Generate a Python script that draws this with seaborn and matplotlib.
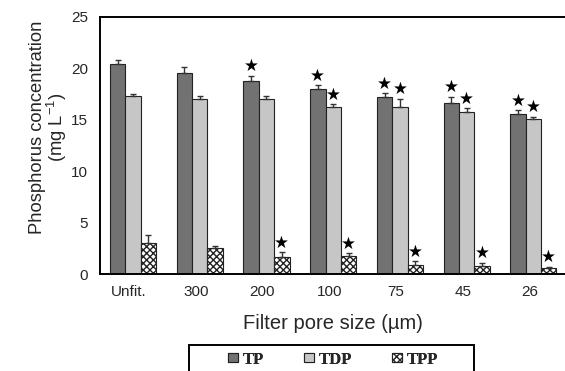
import numpy as np
import pandas as pd
import matplotlib
matplotlib.use("Agg")
import matplotlib.pyplot as plt
import matplotlib.transforms as mtransforms
from matplotlib.patches import Rectangle
from matplotlib.ticker import FixedLocator
import seaborn as sns

categories = ["Unfit.", "300", "200", "100", "75", "45", "26"]
series = ["TP", "TDP", "TPP"]
tp = [20.4, 19.6, 18.8, 17.95, 17.2, 16.6, 15.55]
tdp = [17.3, 17.05, 17.0, 16.2, 16.25, 15.8, 15.05]
tpp = [3.05, 2.5, 1.7, 1.75, 0.9, 0.8, 0.55]
tp_err = [0.45, 0.55, 0.5, 0.4, 0.4, 0.65, 0.4]
tdp_err = [0.2, 0.3, 0.3, 0.3, 0.8, 0.3, 0.25]
tpp_err = [0.7, 0.25, 0.4, 0.25, 0.35, 0.3, 0.15]
tp_sig = [False, False, True, True, True, True, True]
tdp_sig = [False, False, False, True, True, True, True]
tpp_sig = [False, False, True, True, True, True, True]

df = pd.DataFrame({
    "size": categories * 3,
    "series": [s for s in series for _ in categories],
    "value": tp + tdp + tpp,
})
errs = [tp_err, tdp_err, tpp_err]
sigs = [tp_sig, tdp_sig, tpp_sig]

sns.set_style("white")
plt.rcParams["font.family"] = ["Liberation Sans", "DejaVu Sans"]

W, H = 565, 371
fig = plt.figure(figsize=(W / 100, H / 100), dpi=100)
ax = fig.add_axes([99.7 / W, 1 - 274 / H, (566.7 - 99.7) / W, (274 - 17) / H])

palette = ["#727272", "#c6c6c6", "#ffffff"]
sns.barplot(data=df, x="size", y="value", hue="series", order=categories,
            hue_order=series, palette=palette, width=0.69, dodge=True,
            edgecolor="#222222", linewidth=0.8, saturation=1, errorbar=None,
            legend=False, ax=ax)

bar_containers = list(ax.containers)
for i, cont in enumerate(bar_containers):
    xs, ys = [], []
    for bar in cont.patches:
        xs.append(bar.get_x() + bar.get_width() / 2)
        ys.append(bar.get_height())
        if i == 2:
            bar.set_hatch("xxxxx")
    xs = np.array(xs); ys = np.array(ys)
    e = np.array(errs[i])
    ax.errorbar(xs, ys, yerr=[np.zeros_like(e), e], fmt="none",
                ecolor="#333333", elinewidth=1.0, capsize=2.5, capthick=1.0, zorder=3)
    for x, y, ee, s in zip(xs, ys, e, sigs[i]):
        if s:
            ax.text(x, y + ee + 0.05, "★", ha="center", va="bottom",
                    fontsize=12, color="black", family="DejaVu Sans")

ax.set_xlim(-0.5, 6.5)
ax.set_ylim(0, 25)
ax.set_yticks([0, 5, 10, 15, 20, 25])
ax.tick_params(axis="y", length=0, pad=8.5, labelsize=11)
ax.tick_params(axis="x", which="major", length=0, pad=8, labelsize=11)
ax.xaxis.set_minor_locator(FixedLocator(np.arange(0.5, 6.5, 1.0)))
ax.tick_params(axis="x", which="minor", direction="in", length=3, width=1.5, color="black")
offset = mtransforms.ScaledTranslation(-4 / 100, 0, fig.dpi_scale_trans)
for lab in ax.get_xticklabels():
    lab.set_transform(lab.get_transform() + offset)

for side in ["left", "bottom", "top", "right"]:
    ax.spines[side].set_visible(True)
    ax.spines[side].set_color("black")
    ax.spines[side].set_linewidth(1.4)

ax.set_xlabel("Filter pore size (µm)", fontsize=14.5, labelpad=10.5)
ax.set_ylabel("Phosphorus concentration\n(mg L$^{\\mathregular{-1}}$)", fontsize=13.2,
              linespacing=0.95)
ax.yaxis.set_label_coords(-0.066, 0.572)

# legend: one entry per anchor, framed by a box that runs off the bottom edge
fig.add_artist(Rectangle((189 / W, -0.05), (474 - 189) / W, 0.05 + 1 - 345 / H,
                         transform=fig.transFigure, fill=False, edgecolor="black",
                         linewidth=1.4))
entry_x = [228, 304, 392]
for i in range(3):
    leg = fig.legend([bar_containers[i].patches[0]], [series[i]], loc="center left",
                     bbox_to_anchor=(entry_x[i] / W, 1 - 359.5 / H), frameon=False,
                     prop={"family": ["Liberation Serif"], "weight": "bold", "size": 12},
                     handlelength=0.6, handleheight=0.45, handletextpad=0.3,
                     borderpad=0, borderaxespad=0)
    fig.add_artist(leg)

fig.savefig("out.png", dpi=100)
